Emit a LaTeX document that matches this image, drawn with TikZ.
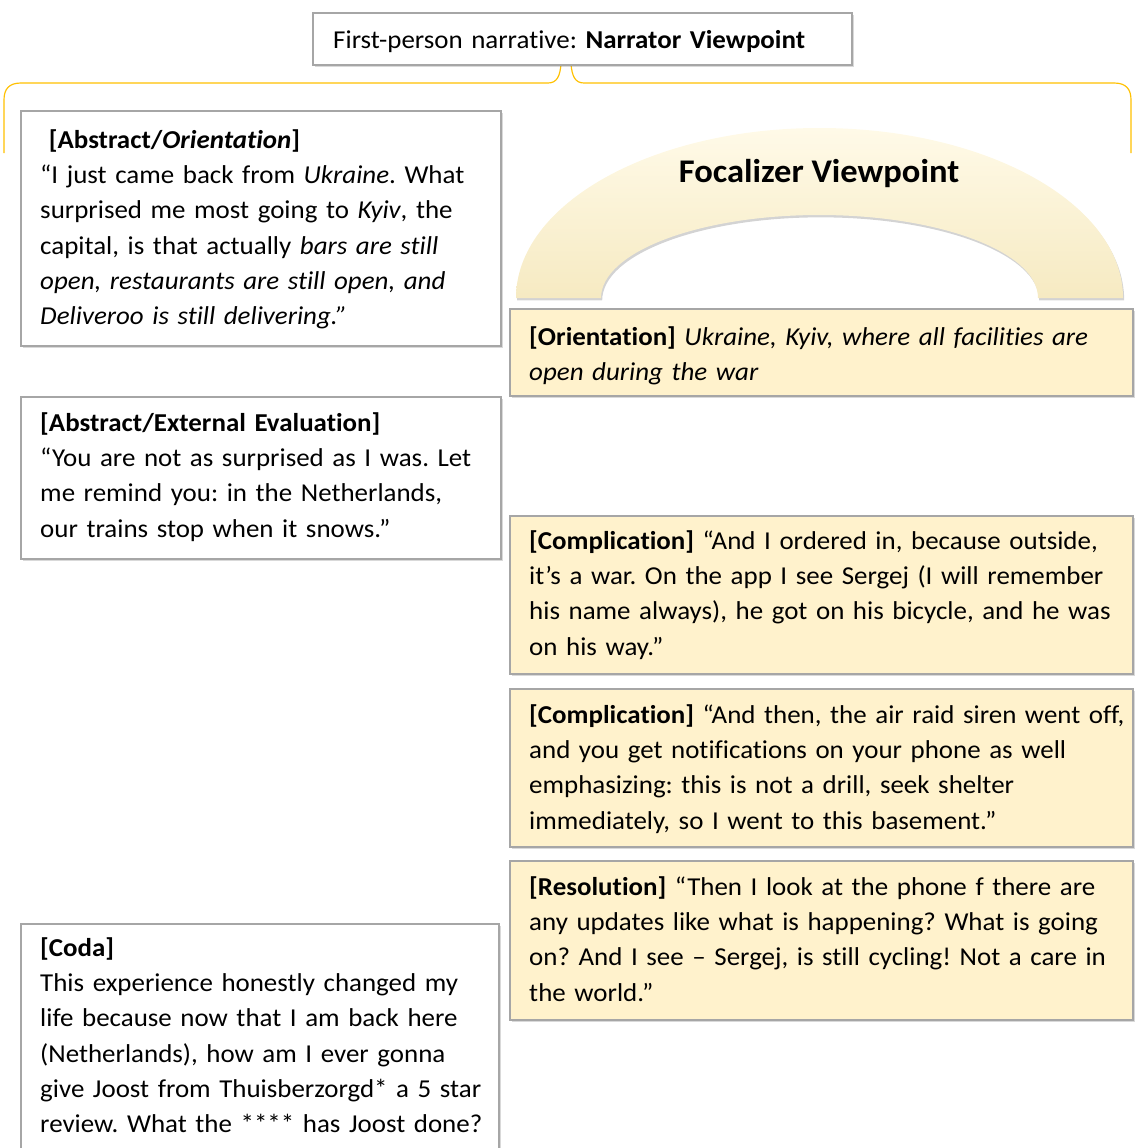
\documentclass[tikz,border=0pt]{standalone}
\usepackage{fontspec}
\setmainfont{Carlito}[Ligatures=NoCommon, FakeStretch=1.045]
\usetikzlibrary{shadows}

\definecolor{boxgray}{HTML}{A6A6A6}
\definecolor{paleyellow}{HTML}{FFF2CC}
\definecolor{bracegold}{HTML}{FFC000}
\definecolor{archlight}{HTML}{FFFAE8}
\definecolor{archdark}{HTML}{F6EAC2}

\begin{document}
\frenchspacing
\begin{tikzpicture}[x=0.03cm, y=-0.03cm]
	\tikzstyle{panel} = [draw=boxgray, line width=1.6pt, anchor=north west, inner sep=0pt, fill=white,
		drop shadow={shadow xshift=2pt, shadow yshift=-2pt, opacity=0.3}]
	\tikzstyle{warm} = [panel, fill=paleyellow]
	\tikzstyle{words} = [anchor=north west, inner sep=0pt, align=left, text width=#1,
		font=\fontsize{22}{30.1}\selectfont]

	\useasboundingbox (0,0) rectangle (1134,1148);

	% curly brace under the narrator box
	\draw[bracegold, line width=1pt]
		(4,153) -- (4,100) .. controls (4,89) and (9,83) .. (21,83)
		-- (548,83) .. controls (557,83) and (560,76) .. (561,64);
	\draw[bracegold, line width=1pt]
		(571,64) .. controls (572,76) and (575,83) .. (584,83)
		-- (1114,83) .. controls (1126,83) and (1131,89) .. (1131,100) -- (1131,153);

	% narrator
	\node[panel, minimum width=16.17cm, minimum height=1.56cm] (narr) at (312,12) {};
	\node[words=15cm] (narrtext) at (333,23.3) {\strut First-person narrative: \textbf{Narrator Viewpoint}};

	% left column
	\node[panel, minimum width=14.4cm, minimum height=7.05cm] (abs) at (20,110) {};
	\node[words=14.4cm] (abstext) at (40,123.3) {\strut\ \textbf{[Abstract/\textit{Orientation}]}\\
		“I just came back from \textit{Ukraine}. What\\
		surprised me most going to \textit{Kyiv}, the\\
		capital, is that actually \textit{bars are still}\\
		\textit{open, restaurants are still open, and}\\
		\textit{Deliveroo is still delivering.”}};

	\node[panel, minimum width=14.4cm, minimum height=4.86cm] (eval) at (20,396) {};
	\node[words=14.4cm] (evaltext) at (40,406.3) {\strut\textbf{[Abstract/External Evaluation]}\\
		“You are not as surprised as I was. Let\\
		me remind you: in the Netherlands,\\
		our trains stop when it snows.”};

	\node[panel, minimum width=14.34cm, minimum height=8cm] (coda) at (20,923) {};
	\node[words=14.4cm] (codatext) at (40,931.3) {\strut\textbf{[Coda]}\\
		This experience honestly changed my\\
		life because now that I am back here\\
		(Netherlands), how am I ever gonna\\
		give Joost from Thuisberzorgd* a 5 star\\
		review. What the **** has Joost done?};

	% focalizer arch
	\path[top color=archlight, bottom color=archdark,
		drop shadow={shadow xshift=1pt, shadow yshift=-2pt, opacity=0.35}]
		(516,298) .. controls (516,204) and (652,128) .. (819.5,128)
		.. controls (987,128) and (1123,204) .. (1123,298)
		-- (1038,298) .. controls (1038,252) and (940,215) .. (819.5,215)
		.. controls (699,215) and (601,252) .. (601,298) -- cycle;
	\node[anchor=base, font=\fontsize{28.2}{34}\selectfont\bfseries] (focal) at (819,182) {Focalizer Viewpoint};

	% right column
	\node[warm, minimum width=18.69cm, minimum height=2.61cm] (orient) at (509,308) {};
	\node[words=18.6cm] (orienttext) at (529,320.3) {\strut\textbf{[Orientation]} \textit{Ukraine, Kyiv, where all facilities are}\\
		\textit{open during the war}};

	\node[warm, minimum width=18.69cm, minimum height=4.74cm] (comp1) at (509,515) {};
	\node[words=18.6cm] (comp1text) at (529,524.3) {\strut\textbf{[Complication]} “And I ordered in, because outside,\\
		it’s a war. On the app I see Sergej (I will remember\\
		his name always), he got on his bicycle, and he was\\
		on his way.”};

	\node[warm, minimum width=18.69cm, minimum height=4.74cm] (comp2) at (509,688) {};
	\node[words=18.6cm] (comp2text) at (529,698.3) {\strut\textbf{[Complication]} “And then, the air raid siren went off,\\
		and you get notifications on your phone as well\\
		emphasizing: this is not a drill, seek shelter\\
		immediately, so I went to this basement.”};

	\node[warm, minimum width=18.69cm, minimum height=4.77cm] (resol) at (509,860) {};
	\node[words=18.6cm] (resoltext) at (529,870.3) {\strut\textbf{[Resolution]} “Then I look at the phone f there are\\
		any updates like what is happening? What is going\\
		on? And I see – Sergej, is still cycling! Not a care in\\
		the world.”};
\end{tikzpicture}
\end{document}
